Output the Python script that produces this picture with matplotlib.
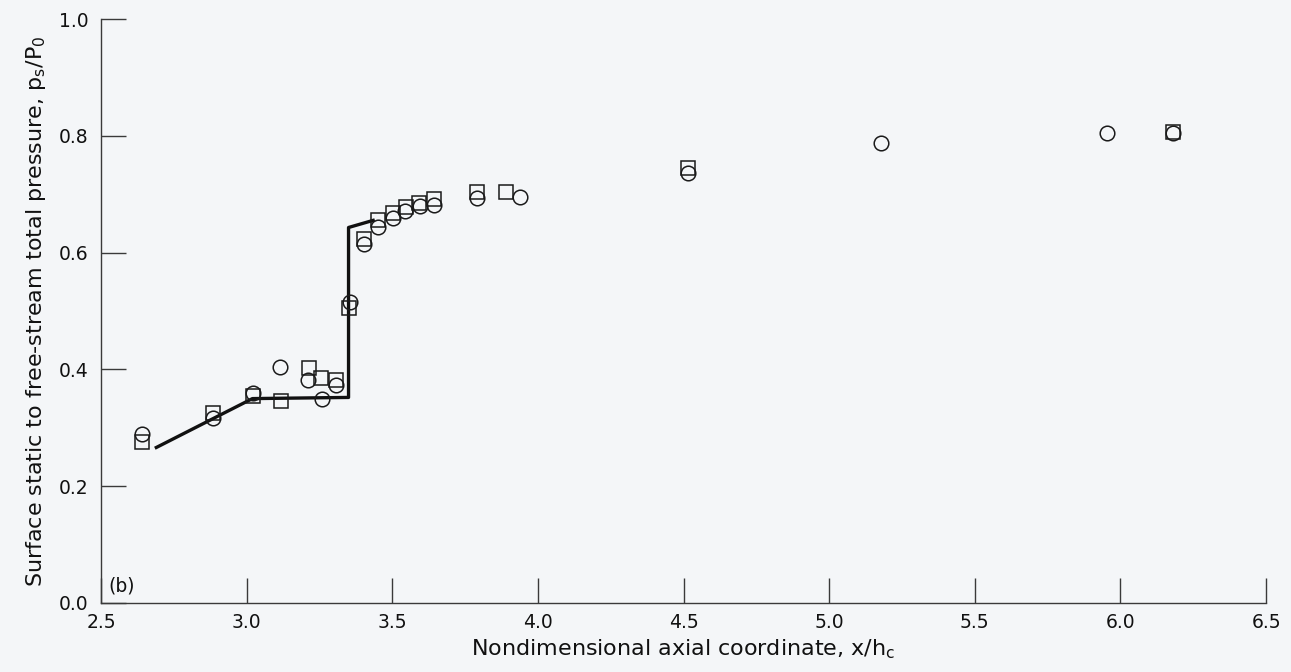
import matplotlib
matplotlib.use("Agg")
import matplotlib.pyplot as plt

plt.rcParams['font.family'] = ['DejaVu Sans']

# Measured surface pressure ratio, two data sets
circle_x = [2.642, 2.886, 3.021, 3.115, 3.210, 3.258, 3.306, 3.355, 3.403, 3.452,
            3.504, 3.544, 3.595, 3.644, 3.790, 3.939, 4.515, 5.177, 5.953, 6.180]
circle_y = [0.289, 0.317, 0.360, 0.404, 0.381, 0.350, 0.374, 0.515, 0.615, 0.643,
            0.659, 0.672, 0.679, 0.682, 0.693, 0.695, 0.737, 0.787, 0.804, 0.804]

square_x = [2.642, 2.883, 3.023, 3.118, 3.215, 3.255, 3.306, 3.353, 3.403, 3.452,
            3.502, 3.546, 3.592, 3.644, 3.790, 3.891, 4.515, 6.180]
square_y = [0.275, 0.325, 0.354, 0.346, 0.402, 0.385, 0.382, 0.505, 0.624, 0.656,
            0.667, 0.678, 0.685, 0.691, 0.703, 0.703, 0.745, 0.807]

# Computed distribution (solid line)
calc_x = [2.685, 3.020, 3.350, 3.350, 3.440]
calc_y = [0.265, 0.350, 0.352, 0.643, 0.656]

x_ticks = [2.5, 3.0, 3.5, 4.0, 4.5, 5.0, 5.5, 6.0, 6.5]
y_ticks = [0.0, 0.2, 0.4, 0.6, 0.8, 1.0]

bg = '#f4f6f8'
ink = '#111111'
fig = plt.figure(figsize=(12.91, 6.72), dpi=100, facecolor=bg)
ax = fig.add_axes([0.0782, 0.1027, 0.9025, 0.869])
ax.set_facecolor(bg)

ax.plot(calc_x, calc_y, color=ink, lw=2.4, solid_capstyle='butt', zorder=2)
ax.plot(square_x, square_y, ls='none', marker='s', ms=10.5, mfc='none',
        mec='#1a1a1a', mew=1.1, zorder=3)
ax.plot(circle_x, circle_y, ls='none', marker='o', ms=10.5, mfc='none',
        mec='#1a1a1a', mew=1.1, zorder=4)

ax.set_xlim(2.5, 6.5)
ax.set_ylim(0.0, 1.0)
ax.set_xticks(x_ticks)
ax.set_yticks(y_ticks)
ax.set_xticklabels([f'{v:.1f}' for v in x_ticks])
ax.set_yticklabels([f'{v:.1f}' for v in y_ticks])

for side in ('top', 'right'):
    ax.spines[side].set_visible(False)
for side in ('left', 'bottom'):
    ax.spines[side].set_color('#3a3a3a')
    ax.spines[side].set_linewidth(1.0)

ax.tick_params(axis='both', direction='in', length=18, width=1.0,
               color='#3a3a3a', labelsize=13.5, labelcolor=ink)
ax.tick_params(axis='y', pad=9)
ax.tick_params(axis='x', pad=7)

ax.set_xlabel('Nondimensional axial coordinate, x/h$_\\mathregular{c}$',
              fontsize=16, color=ink, labelpad=4)
ax.set_ylabel('Surface static to free-stream total pressure, p$_\\mathregular{s}$/P$_\\mathregular{0}$',
              fontsize=16, color=ink, labelpad=8)

ax.text(0.006, 0.012, '(b)', transform=ax.transAxes, fontsize=13.5,
        color=ink, ha='left', va='bottom')

fig.savefig('out.png', dpi=100, facecolor=bg)
